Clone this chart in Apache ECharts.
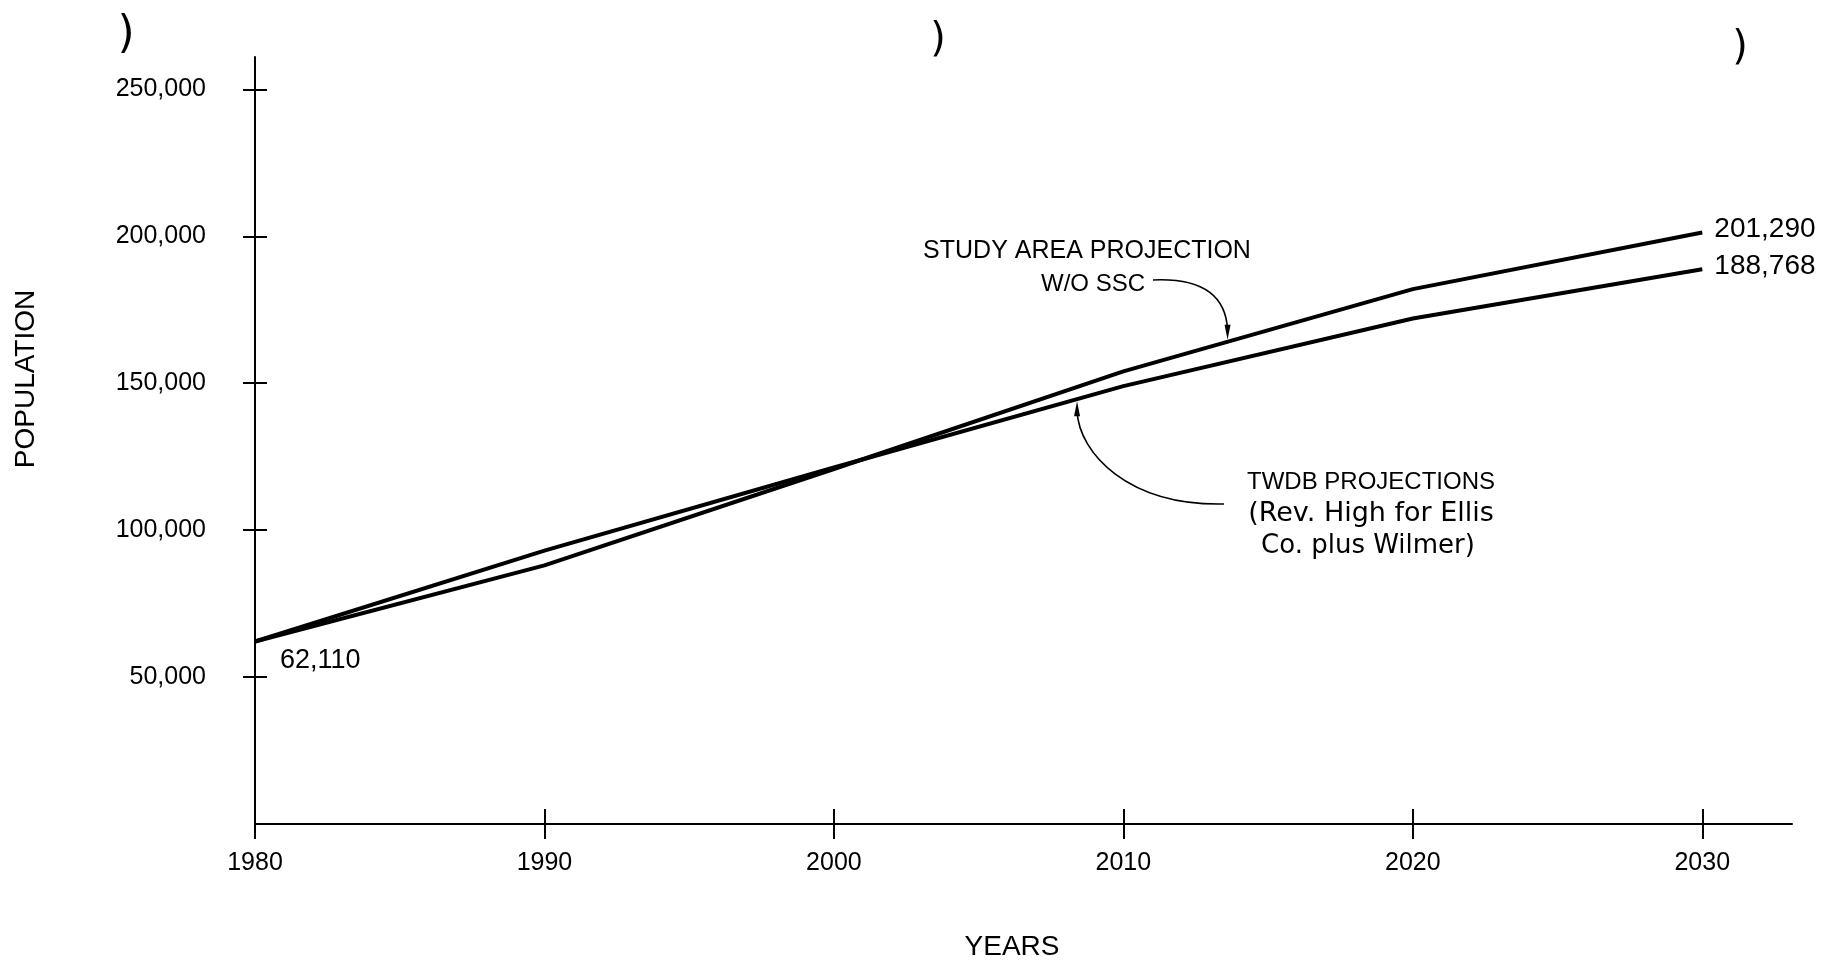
<!DOCTYPE html>
<html>
<head>
<meta charset="utf-8">
<script src="https://cdn.jsdelivr.net/npm/echarts@6/dist/echarts.min.js"></script>
<style>
html,body{margin:0;padding:0;background:#fff;}
#c{width:1845px;height:964px;}
</style>
</head>
<body>
<div id="c"></div>
<script>
// ---- data ----
const years = [1980, 1990, 2000, 2010, 2020, 2030];
const studyArea = [62110, 88000, 120800, 154000, 182000, 201290];   // STUDY AREA PROJECTION W/O SSC
const twdb = [62110, 93000, 121300, 149000, 172000, 188768];        // TWDB PROJECTIONS
const xTicks = [1980, 1990, 2000, 2010, 2020, 2030];
const yTicks = [50000, 100000, 150000, 200000, 250000];
const xTitle = 'YEARS';
const yTitle = 'POPULATION';
const studyLabel = ['STUDY AREA PROJECTION', 'W/O SSC'];
const twdbLabel = ['TWDB PROJECTIONS', '(Rev. High for Ellis', 'Co. plus Wilmer)'];
const studyArrowYear = 2013.6;
const twdbArrowYear = 2008.4;

const FONT = "'Liberation Sans', Arial, sans-serif";
const fmt = v => Number(v).toLocaleString('en-US');

function buildData(vals, labelFirst) {
  return years.map((y, i) => {
    const item = { value: [y, vals[i]] };
    if (i === years.length - 1) {
      item.label = { show: true, position: 'right', distance: 12, offset: [0, -3], fontSize: 28,
        formatter: p => fmt(p.value[1]) };
    }
    if (i === 0 && labelFirst) {
      item.label = { show: true, position: 'right', distance: 25, offset: [0, 19], fontSize: 27,
        formatter: p => fmt(p.value[1]) };
    }
    return item;
  });
}

const chart = echarts.init(document.getElementById('c'), null, { renderer: 'canvas' });

const axisLineStyle = { color: '#000', width: 2 };
const tickStyle = { color: '#000', width: 2 };

const option = {
  animation: false,
  backgroundColor: '#fff',
  grid: { left: 255, right: 53, top: 57, bottom: 140, containLabel: false },
  xAxis: [
    {
      type: 'value', min: 1980, max: 2033.1, position: 'bottom',
      axisLine: { show: true, onZero: false, lineStyle: axisLineStyle },
      axisTick: { show: true, length: 15, customValues: xTicks, lineStyle: tickStyle },
      axisLabel: { show: true, customValues: xTicks, formatter: v => String(v), margin: 27,
        fontSize: 25, fontFamily: FONT, color: '#000' },
      splitLine: { show: false }
    },
    {
      type: 'value', min: 1980, max: 2033.1, position: 'bottom',
      axisLine: { show: false },
      axisTick: { show: true, inside: true, length: 15, customValues: xTicks, lineStyle: tickStyle },
      axisLabel: { show: false },
      splitLine: { show: false }
    }
  ],
  yAxis: [
    {
      type: 'value', min: 0, max: 261000, position: 'left',
      axisLine: { show: true, onZero: false, lineStyle: axisLineStyle },
      axisTick: { show: true, length: 12, customValues: yTicks, lineStyle: tickStyle },
      axisLabel: { show: true, customValues: yTicks, formatter: v => fmt(v), margin: 49,
        fontSize: 25, fontFamily: FONT, color: '#000', padding: [0, 0, 14, 0] },
      splitLine: { show: false }
    },
    {
      type: 'value', min: 0, max: 261000, position: 'left',
      axisLine: { show: false },
      axisTick: { show: true, inside: true, length: 12, customValues: yTicks, lineStyle: tickStyle },
      axisLabel: { show: false },
      splitLine: { show: false }
    }
  ],
  series: [
    {
      name: 'Study Area Projection W/O SSC', type: 'line',
      xAxisIndex: 0, yAxisIndex: 0,
      data: buildData(studyArea, false),
      symbol: 'circle', symbolSize: 0.1, showSymbol: true,
      itemStyle: { color: '#000' },
      lineStyle: { color: '#000', width: 4 },
      label: { show: false, fontSize: 24, fontFamily: FONT, color: '#000' },
      emphasis: { disabled: true }, silent: true
    },
    {
      name: 'TWDB Projections', type: 'line',
      xAxisIndex: 0, yAxisIndex: 0,
      data: buildData(twdb, true),
      symbol: 'circle', symbolSize: 0.1, showSymbol: true,
      itemStyle: { color: '#000' },
      lineStyle: { color: '#000', width: 4 },
      label: { show: false, fontSize: 24, fontFamily: FONT, color: '#000' },
      emphasis: { disabled: true }, silent: true
    }
  ]
};
chart.setOption(option);

function interp(vals, yr) {
  for (let i = 0; i < years.length - 1; i++) {
    if (yr >= years[i] && yr <= years[i + 1]) {
      const t = (yr - years[i]) / (years[i + 1] - years[i]);
      return vals[i] + t * (vals[i + 1] - vals[i]);
    }
  }
  return vals[vals.length - 1];
}

const sTip = chart.convertToPixel({ xAxisIndex: 0, yAxisIndex: 0 }, [studyArrowYear, interp(studyArea, studyArrowYear)]);
const tTip = chart.convertToPixel({ xAxisIndex: 0, yAxisIndex: 0 }, [twdbArrowYear, interp(twdb, twdbArrowYear)]);
sTip[1] -= 2; tTip[1] += 2;

function txt(text, x, y, size, family, extra) {
  return Object.assign({
    type: 'text', x: x, y: y, silent: true,
    style: { text: text, x: 0, y: 0, fontSize: size, fontFamily: family || FONT, fill: '#000',
      align: 'center', verticalAlign: 'middle', textAlign: 'center', textVerticalAlign: 'middle' }
  }, extra || {});
}

const DV = "'DejaVu Sans', sans-serif";
const graphics = [
  txt(yTitle, 26, 379, 28, FONT, { rotation: Math.PI / 2 }),
  txt(xTitle, 1012, 947, 28, FONT),
  txt(studyLabel[0], 1087, 251, 25, FONT),
  txt(studyLabel[1], 1093, 284, 24, FONT),
  txt(twdbLabel[0], 1371, 482, 24, FONT),
  txt(twdbLabel[1], 1371, 514, 27, DV),
  txt(twdbLabel[2], 1368, 546, 26, DV),
  // binder marks at the top of the scan
  txt(')', 126, 36, 44, DV),
  txt(')', 938, 41, 40, DV),
  txt(')', 1740, 49, 40, DV),
  // leader: study area
  { type: 'bezierCurve', silent: true,
    shape: { x1: 1153, y1: 280, cpx1: 1198, cpy1: 278, cpx2: sTip[0] - 2, cpy2: sTip[1] - 48, x2: sTip[0], y2: sTip[1] - 10 },
    style: { stroke: '#000', lineWidth: 1.6, fill: null } },
  { type: 'polygon', silent: true,
    shape: { points: [[sTip[0], sTip[1]], [sTip[0] - 3, sTip[1] - 15], [sTip[0] + 3, sTip[1] - 15]] },
    style: { fill: '#000' } },
  // leader: TWDB
  { type: 'bezierCurve', silent: true,
    shape: { x1: 1224, y1: 504, cpx1: 1128, cpy1: 506, cpx2: tTip[0] + 2, cpy2: tTip[1] + 52, x2: tTip[0], y2: tTip[1] + 10 },
    style: { stroke: '#000', lineWidth: 1.6, fill: null } },
  { type: 'polygon', silent: true,
    shape: { points: [[tTip[0], tTip[1]], [tTip[0] - 3, tTip[1] + 15], [tTip[0] + 3, tTip[1] + 15]] },
    style: { fill: '#000' } }
];
chart.setOption({ graphic: graphics });
</script>
</body>
</html>
